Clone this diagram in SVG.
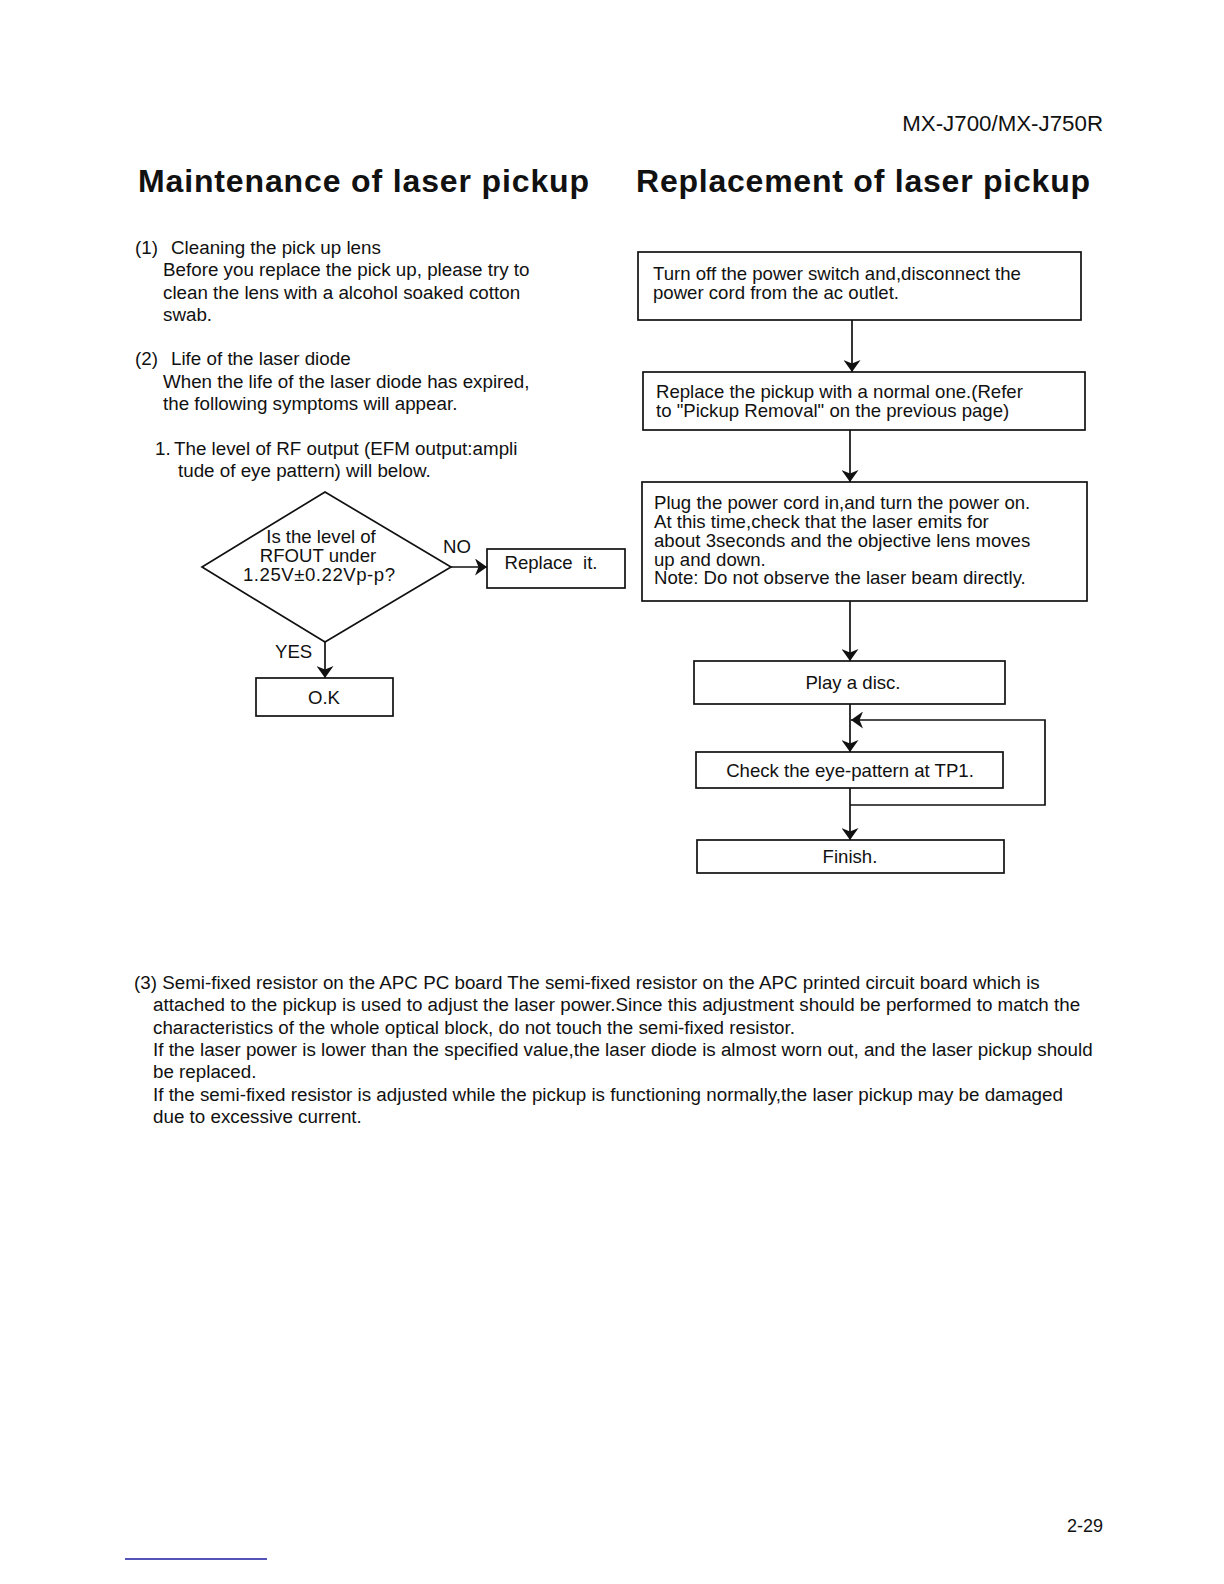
<svg xmlns="http://www.w3.org/2000/svg" width="1224" height="1584" viewBox="0 0 1224 1584">
<style>
text{font-family:"Liberation Sans",Arial,sans-serif;fill:#111;}
.t{font-size:18.8px;}
.b{font-size:18.6px;}
.h{font-size:32px;font-weight:bold;}
.c{text-anchor:middle;}
.box{fill:#fff;stroke:#111;stroke-width:1.7;}
.ln{fill:none;stroke:#111;stroke-width:1.7;}
</style>
<defs>
<marker id="ah" viewBox="0 0 12 17" refX="12" refY="8.5" markerWidth="12" markerHeight="17" markerUnits="userSpaceOnUse" orient="auto">
<path d="M0,0 L12,8.5 L0,17 L3.5,8.5 Z" fill="#111"/>
</marker>
</defs>
<rect width="1224" height="1584" fill="#fff"/>
<text x="1103" y="131" style="font-size:22.3px;text-anchor:end">MX-J700/MX-J750R</text>
<text x="138" y="192" class="h" textLength="451">Maintenance of laser pickup</text>
<text x="636" y="192" class="h" textLength="454">Replacement of laser pickup</text>

<g id="left-text">
<text x="135" y="254" class="t">(1)</text>
<text x="171" y="254" class="t">Cleaning the pick up lens</text>
<text x="163" y="276" class="t">Before you replace the pick up, please try to</text>
<text x="163" y="299" class="t">clean the lens with a alcohol soaked cotton</text>
<text x="163" y="321" class="t">swab.</text>
<text x="135" y="365" class="t">(2)</text>
<text x="171" y="365" class="t">Life of the laser diode</text>
<text x="163" y="388" class="t">When the life of the laser diode has expired,</text>
<text x="163" y="410" class="t">the following symptoms will appear.</text>
<text x="155" y="455" class="t">1.</text>
<text x="174" y="455" class="t">The level of RF output (EFM  output:ampli</text>
<text x="178" y="477" class="t">tude of eye pattern) will below.</text>
</g>

<g id="connectors">
<line x1="451" y1="567" x2="487" y2="567" class="ln" marker-end="url(#ah)"/>
<line x1="325" y1="642" x2="325" y2="678" class="ln" marker-end="url(#ah)"/>
<line x1="852" y1="320" x2="852" y2="372" class="ln" marker-end="url(#ah)"/>
<line x1="850" y1="430" x2="850" y2="482" class="ln" marker-end="url(#ah)"/>
<line x1="850" y1="601" x2="850" y2="661" class="ln" marker-end="url(#ah)"/>
<line x1="850" y1="704" x2="850" y2="752" class="ln" marker-end="url(#ah)"/>
<line x1="850" y1="788" x2="850" y2="840" class="ln" marker-end="url(#ah)"/>
<polyline points="850,805 1045,805 1045,720 851,720" class="ln" marker-end="url(#ah)"/>
</g>
<text x="443" y="553" class="b">NO</text>
<text x="275" y="658" class="b">YES</text>

<g id="decision">
<polygon points="325,492 451,567 325,642 202,567" class="box"/>
<text x="321" y="543" class="b c">Is the level of</text>
<text x="318" y="562" class="b c">RFOUT under</text>
<text x="319" y="581" class="b c" textLength="152">1.25V±0.22Vp-p?</text>
</g>
<g id="replace">
<rect x="487" y="549" width="138" height="39" class="box"/>
<text x="551" y="569" class="b c" xml:space="preserve">Replace  it.</text>
</g>
<g id="ok">
<rect x="256" y="678" width="137" height="38" class="box"/>
<text x="324" y="704" class="b c">O.K</text>
</g>

<g id="step1">
<rect x="638" y="252" width="443" height="68" class="box"/>
<text x="653" y="280" class="b">Turn off the power switch and,disconnect the</text>
<text x="653" y="299" class="b">power cord from the ac outlet.</text>
</g>
<g id="step2">
<rect x="643" y="372" width="442" height="58" class="box"/>
<text x="656" y="398" class="b">Replace the pickup with a normal one.(Refer</text>
<text x="656" y="417" class="b">to "Pickup Removal" on the previous page)</text>
</g>
<g id="step3">
<rect x="642" y="482" width="445" height="119" class="box"/>
<text x="654" y="509" class="b">Plug the power cord in,and turn the power on.</text>
<text x="654" y="528" class="b">At this time,check that the laser emits for</text>
<text x="654" y="547" class="b">about 3seconds and the objective lens moves</text>
<text x="654" y="566" class="b">up and down.</text>
<text x="654" y="584" class="b">Note: Do not observe the laser beam directly.</text>
</g>
<g id="step4">
<rect x="694" y="661" width="311" height="43" class="box"/>
<text x="853" y="689" class="b c">Play a disc.</text>
</g>
<g id="step5">
<rect x="696" y="752" width="307" height="36" class="box"/>
<text x="850" y="777" class="b c">Check the eye-pattern at TP1.</text>
</g>
<g id="finish">
<rect x="697" y="840" width="307" height="33" class="box"/>
<text x="850" y="863" class="b c">Finish.</text>
</g>

<g id="para3">
<text x="134" y="989" class="t">(3) Semi-fixed resistor on the APC PC board The semi-fixed resistor on the APC printed circuit board which is</text>
<text x="153" y="1011" class="t">attached to the pickup is used to adjust the laser power.Since this adjustment should be performed to match the</text>
<text x="153" y="1034" class="t">characteristics of the whole optical block, do not touch the semi-fixed resistor.</text>
<text x="153" y="1056" class="t">If the laser power is lower than the specified value,the laser diode is almost worn out, and the laser pickup should</text>
<text x="153" y="1078" class="t">be replaced.</text>
<text x="153" y="1101" class="t">If the semi-fixed resistor is adjusted while the pickup is functioning normally,the laser pickup may be damaged</text>
<text x="153" y="1123" class="t">due to excessive current.</text>
</g>
<text x="1103" y="1532" style="font-size:18px;text-anchor:end">2-29</text>
<line x1="125" y1="1559" x2="267" y2="1559" stroke="#1a1aa0" stroke-width="1.5"/>
</svg>
